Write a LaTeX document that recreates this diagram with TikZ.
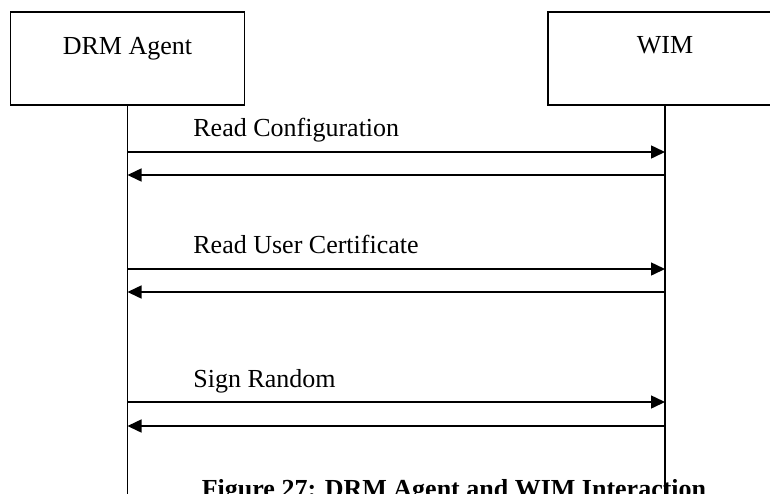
\documentclass[tikz,border=0pt]{standalone}
\usepackage{fontspec}
\setmainfont{Liberation Serif}
\usetikzlibrary{arrows.meta}

\begin{document}
\begin{tikzpicture}[x=0.5pt,y=-0.5pt,
  box/.style={shape=rectangle,draw=black,line width=0.75pt,minimum width=117pt,minimum height=46.5pt,inner sep=0pt},
  txt/.style={font=\fontsize{13}{15}\selectfont,inner sep=0pt},
  msg/.style={-{Triangle[length=7pt,width=6.5pt]},draw=black,line width=0.75pt},
  life/.style={draw=black,line width=0.75pt}]
\clip (0,0) rectangle (770,493);
\node[box] (0) at (127.5,58.5) {};
\node[box] (1) at (665,58.5) {};
\node[txt,anchor=base] (0t) at (127.5,54) {DRM Agent};
\node[txt,anchor=base] (1t) at (665,53) {WIM};

\node[txt,anchor=base,font=\fontsize{13}{15}\selectfont\bfseries] (cap) at (454,497) {Figure 27: DRM Agent and WIM Interaction};

\coordinate (0e) at (127.5,500);
\coordinate (1e) at (665,500);
\draw [life] (0) -- (0e);
\draw [life] (1) -- (1e);

\coordinate (a1) at (127.5,152);
\coordinate (w1) at (665,152);
\coordinate (a2) at (127.5,175);
\coordinate (w2) at (665,175);
\coordinate (a3) at (127.5,269);
\coordinate (w3) at (665,269);
\coordinate (a4) at (127.5,292);
\coordinate (w4) at (665,292);
\coordinate (a5) at (127.5,402);
\coordinate (w5) at (665,402);
\coordinate (a6) at (127.5,426);
\coordinate (w6) at (665,426);

\node[txt,anchor=base west] (m1) at (193,136) {Read Configuration};
\node[txt,anchor=base west] (m2) at (193,253) {Read User Certificate};
\node[txt,anchor=base west] (m3) at (193,387) {Sign Random};

\draw [msg] (a1) -- (w1);
\draw [msg] (w2) -- (a2);
\draw [msg] (a3) -- (w3);
\draw [msg] (w4) -- (a4);
\draw [msg] (a5) -- (w5);
\draw [msg] (w6) -- (a6);
\end{tikzpicture}
\end{document}
